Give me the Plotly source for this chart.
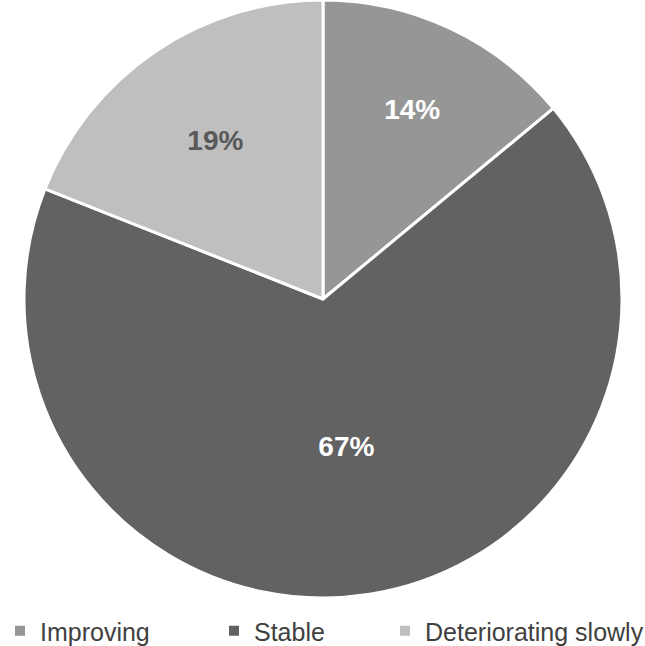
import plotly.graph_objects as go

labels = ["Improving", "Stable", "Deteriorating slowly"]
values = [14, 67, 19]
colors = ["#969696", "#626262", "#bfbfbf"]
text_colors = ["#ffffff", "#ffffff", "#595959"]
legend_anchor_x = [0, 214, 385]  # pixel left edge of each legend entry

FONT = "Liberation Sans, Arial, sans-serif"
W, H = 645, 646

fig = go.Figure()
fig.add_trace(go.Pie(
    labels=labels,
    values=values,
    sort=False,
    direction="clockwise",
    rotation=0,
    marker=dict(colors=colors, line=dict(color="white", width=3)),
    textinfo="percent",
    texttemplate="%{percent:.0%}",
    textposition="inside",
    insidetextorientation="horizontal",
    textfont=dict(family=FONT, size=28, color=text_colors, weight="bold"),
    hoverinfo="label+percent",
    showlegend=False,
))

legend_names = ["legend", "legend2", "legend3"]
for i, (lab, col) in enumerate(zip(labels, colors)):
    fig.add_trace(go.Scatter(
        x=[None], y=[None], mode="markers", name=lab,
        marker=dict(symbol="square", size=10, color=col),
        legend=legend_names[i], showlegend=True,
    ))

layout_legends = {}
for i, name in enumerate(legend_names):
    layout_legends[name] = dict(
        xref="container", yref="container",
        x=legend_anchor_x[i] / W, xanchor="left",
        y=1 - 631 / H, yanchor="middle",
        orientation="h",
        font=dict(size=25, color="#404040", family=FONT),
        bgcolor="rgba(0,0,0,0)",
        itemwidth=30,
    )

fig.update_layout(
    width=W, height=H,
    margin=dict(l=24, r=23, t=0, b=48),
    paper_bgcolor="white",
    plot_bgcolor="white",
    font=dict(family=FONT),
    xaxis=dict(visible=False),
    yaxis=dict(visible=False),
    **layout_legends,
)

fig.write_html("out.html")
